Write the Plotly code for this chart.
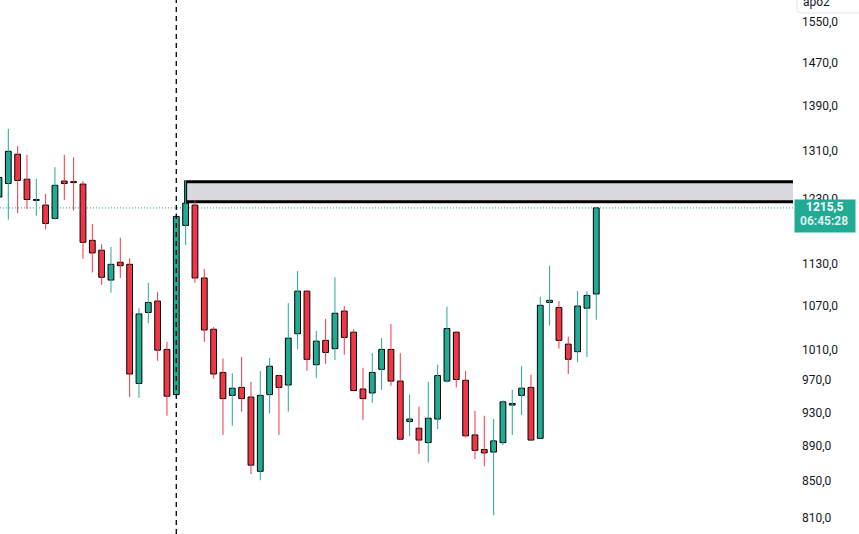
import math
import plotly.graph_objects as go

# ---- data ----
bars = list(range(65))
opens = [1233, 1255, 1304, 1262, 1227.5, 1220, 1199, 1259, 1257, 1254,
         1165, 1150, 1106, 1132, 1129, 966, 1060, 1076, 1010, 952,
         1188, 1220, 1109, 1037, 980, 951, 961, 949, 861, 952,
         976, 964, 1031, 1090, 990, 1022, 1011, 1062, 1033, 959,
         954, 984, 1010, 969, 919, 911, 894, 922, 969, 1033,
         970, 903, 886, 883, 894, 939, 951, 961, 899, 1074,
         1067, 1017, 1007, 1066, 1086]
highs = [1270, 1348, 1318, 1303, 1263, 1238, 1282, 1303, 1299, 1259,
         1190, 1159, 1155, 1169, 1138, 1066, 1102, 1089, 1020, 1208,
         1261, 1227, 1122, 1040, 998, 979, 1000, 968, 982, 999,
         977, 1073, 1119, 1092, 1035, 1051, 1110, 1069, 1037, 986,
         1005, 1025, 1044, 1005, 952, 937, 968, 990, 1068, 1034,
         982, 932, 926, 922, 945, 958, 988, 977, 1082, 1127,
         1076, 1027, 1090, 1090, 1217]
lows = [1225, 1197, 1207, 1214, 1203, 1182, 1197, 1228, 1211, 1137,
        1117, 1099, 1088, 1109, 949, 948, 1045, 995, 926, 949,
        1158, 1102, 1020, 972, 903, 914, 931, 858, 851, 929,
        903, 931, 1010, 982, 973, 991, 996, 1003, 957, 921,
        942, 958, 963, 898, 902, 881, 871, 910, 967, 961,
        900, 875, 867, 813, 891, 903, 927, 897, 899, 1042,
        1011, 978, 993, 1000, 1050]
closes = [1265, 1309, 1260, 1229, 1228, 1191, 1252, 1255, 1256.5, 1162,
          1146, 1110, 1129, 1127, 978, 1058, 1074, 1009, 950, 1202,
          1223, 1109, 1036, 978, 947, 960, 947, 868, 951, 988,
          961, 1025, 1090, 997, 1021, 1006, 1059, 1026, 957, 947,
          980, 1010, 969, 898, 922, 897, 923, 976, 1038, 971,
          902, 885, 882, 896, 943, 941, 960, 897, 1070, 1077,
          1022, 997, 1069, 1084, 1215.5]

tick_vals = [810, 850, 890, 930, 970, 1010, 1070, 1130, 1190, 1230, 1310, 1390, 1470, 1550]
tick_text = ["810,0", "850,0", "890,0", "930,0", "970,0", "1010,0", "1070,0", "1130,0",
             "1190,0", "1230,0", "1310,0", "1390,0", "1470,0", "1550,0"]

last_price = 1215.5
last_price_text = "1215,5"
countdown_text = "06:45:28"
zone_low, zone_high = 1225.4, 1257.9
zone_start_bar = 20
marker_bar = 19
widget_text = "apo2"

UP = "#22ab94"
DOWN = "#f23645"

fig = go.Figure()

# wicks
for up in (True, False):
    xs, ys = [], []
    for i, o, h, l, c in zip(bars, opens, highs, lows, closes):
        if (c >= o) == up:
            xs += [i, i, None]
            ys += [l, h, None]
    fig.add_trace(go.Scatter(x=xs, y=ys, mode="lines",
                             line=dict(color=UP if up else DOWN, width=1),
                             hoverinfo="skip", showlegend=False))

# bodies
for up in (True, False):
    bx, bb, bh = [], [], []
    for i, o, c in zip(bars, opens, closes):
        if (c >= o) == up:
            bx.append(i)
            bb.append(min(o, c))
            bh.append(max(abs(c - o), 1.5))
    fig.add_trace(go.Bar(x=bx, y=bh, base=bb, width=0.62,
                         marker=dict(color=UP if up else DOWN,
                                     line=dict(color="black", width=1)),
                         hoverinfo="skip", showlegend=False))

shapes = [
    # resistance zone
    dict(type="rect", xref="x", yref="y", x0=zone_start_bar, x1=90,
         y0=zone_low, y1=zone_high, fillcolor="#d9d9de",
         line=dict(color="black", width=3), layer="below"),
    # last price line
    dict(type="line", xref="paper", yref="y", x0=0, x1=1, y0=last_price, y1=last_price,
         line=dict(color=UP, width=1, dash="1px,2px"), layer="below"),
    # vertical dashed marker
    dict(type="line", xref="x", yref="paper", x0=marker_bar, x1=marker_bar, y0=0, y1=1,
         line=dict(color="black", width=1.3, dash="5px,4px"), layer="above"),
    # top-right widget box
    dict(type="path", xref="paper", xsizemode="pixel", xanchor=1,
         yref="paper", ysizemode="pixel", yanchor=1,
         path="M 4,2 L 4,-9 Q 4,-13 8,-13 L 70,-13 L 70,2",
         line=dict(color="#e0e3eb", width=1), fillcolor="white", layer="above"),
]

ly = math.log10(last_price)  # annotations on a log axis take log10 positions
annotations = [
    # price label background
    dict(xref="paper", x=1, xshift=1, xanchor="left", yref="y", y=ly,
         yshift=9, yanchor="top", showarrow=False, text=" ",
         width=60, height=32, borderpad=0, bgcolor=UP,
         font=dict(size=1)),
    dict(xref="paper", x=1, xshift=31, xanchor="center", yref="y", y=ly,
         yshift=1, yanchor="middle", showarrow=False,
         text="<b>" + last_price_text + "</b>",
         font=dict(family="Roboto", size=12, color="white")),
    dict(xref="paper", x=1, xshift=31, xanchor="center", yref="y", y=ly,
         yshift=-13, yanchor="middle", showarrow=False,
         text="<b>" + countdown_text + "</b>",
         font=dict(family="Roboto", size=12, color="rgba(255,255,255,0.85)")),
    dict(xref="paper", x=1, xshift=8, xanchor="left", yref="paper", y=1,
         yshift=-2, yanchor="middle", showarrow=False,
         text=widget_text, font=dict(family="Roboto", size=12, color="#131722")),
    dict(xref="paper", x=1, xshift=58, xanchor="center", yref="paper", y=1,
         yshift=-2, yanchor="middle", showarrow=False,
         text="˅", font=dict(family="DejaVu Sans", size=10, color="#131722")),
]

fig.update_layout(
    width=859, height=534,
    margin=dict(l=0, r=66, t=0, b=0),
    paper_bgcolor="white", plot_bgcolor="white",
    showlegend=False, barmode="overlay",
    shapes=shapes, annotations=annotations,
    xaxis=dict(visible=False, range=[0.11, 85.08], fixedrange=True),
    yaxis=dict(type="log", side="right", range=[2.89938, 3.20296],
               tickvals=tick_vals, ticktext=tick_text,
               showgrid=False, zeroline=False, showline=False, ticks="",
               ticklabelstandoff=8, fixedrange=True,
               tickfont=dict(family="Roboto", size=12, color="#131722")),
)

fig.write_html("out.html", config={"displayModeBar": False},
               post_script="document.body.style.margin='0';document.body.style.overflow='hidden';")
